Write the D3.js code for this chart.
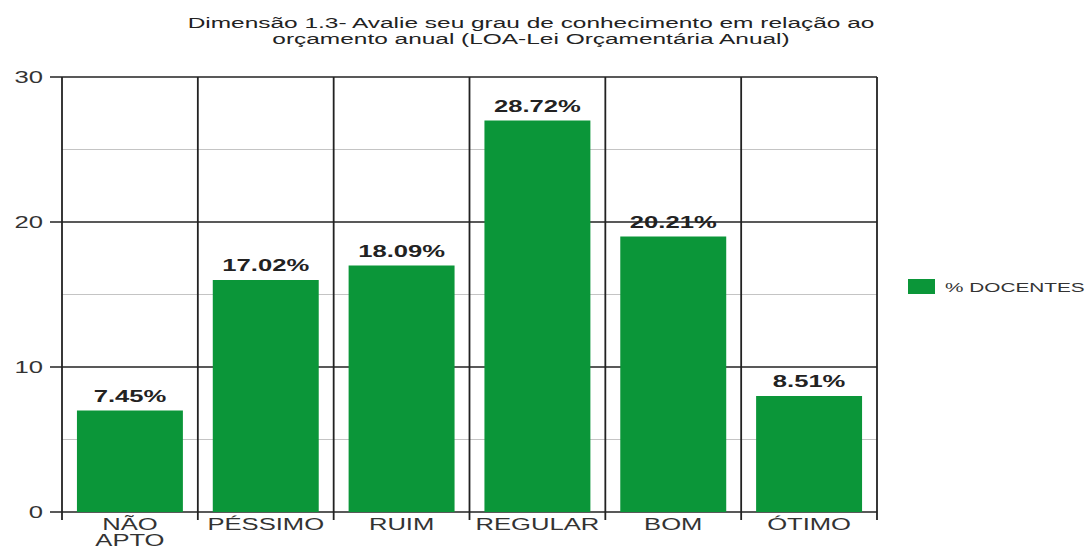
<!DOCTYPE html>
<html>
<head>
<meta charset="utf-8">
<script src="https://cdn.jsdelivr.net/npm/d3@7"></script>
<style>
  body { margin: 0; background: #fff; }
  svg text { font-family: "Liberation Sans", Arial, sans-serif; }
</style>
</head>
<body>
<svg id="chart"></svg>
<script>
var categories = ["NÃO APTO", "PÉSSIMO", "RUIM", "REGULAR", "BOM", "ÓTIMO"];
var counts = [7, 16, 17, 27, 19, 8];
var pctLabels = ["7.45%", "17.02%", "18.09%", "28.72%", "20.21%", "8.51%"];
var yTicks = [0, 10, 20, 30];
var yMinor = [5, 15, 25];
var seriesName = "% DOCENTES";
var titleLines = ["Dimensão 1.3- Avalie seu grau de conhecimento em relação ao",
                  "orçamento anual (LOA-Lei Orçamentária Anual)"];

var svg = d3.select("#chart"),
    margin = {top: 77, right: 212, bottom: 38, left: 62},
    W = 1089, H = 550,
    width = W - margin.left - margin.right,
    height = H - margin.top - margin.bottom;
svg.attr("width", W).attr("height", H);

// the source picture is stretched sideways, so text is widened too
var sx = 1.6;
function place(px, py, s) { return "translate(" + px + "," + py + ") scale(" + (s || sx) + ",1)"; }

var g = svg.append("g").attr("transform", "translate(" + margin.left + "," + margin.top + ")");

var x = d3.scaleBand().domain(categories).range([0, width]).paddingInner(0).paddingOuter(0);
var y = d3.scaleLinear().domain([0, 30]).range([height, 0]);
var barPad = 0.11;
var green = "#0b9639";

// minor horizontal grid
g.selectAll(".minor").data(yMinor).enter().append("line")
  .attr("x1", 0).attr("x2", width)
  .attr("y1", function(d) { return y(d); }).attr("y2", function(d) { return y(d); })
  .attr("stroke", "#c4c4c4").attr("stroke-width", 1);

// major horizontal grid + ticks
g.selectAll(".major").data(yTicks).enter().append("line")
  .attr("x1", -12).attr("x2", width)
  .attr("y1", function(d) { return y(d); }).attr("y2", function(d) { return y(d); })
  .attr("stroke", "#222").attr("stroke-width", 1.5);

g.selectAll(".ylab").data(yTicks).enter().append("text")
  .attr("transform", function(d) { return place(-19, y(d)); })
  .attr("dy", "0.35em").attr("text-anchor", "end")
  .attr("font-size", 16).attr("fill", "#333")
  .text(function(d) { return d; });

// bars
g.selectAll(".bar").data(categories).enter().append("rect")
  .attr("x", function(d) { return x(d) + x.bandwidth() * barPad; })
  .attr("width", x.bandwidth() * (1 - 2 * barPad))
  .attr("y", function(d, i) { return y(counts[i]); })
  .attr("height", function(d, i) { return height - y(counts[i]); })
  .attr("fill", green);

// vertical grid at band edges
var edges = categories.map(function(d) { return x(d); }).concat([width]);
g.selectAll(".vline").data(edges).enter().append("line")
  .attr("x1", function(d) { return d; }).attr("x2", function(d) { return d; })
  .attr("y1", 0).attr("y2", height + 8)
  .attr("stroke", "#222").attr("stroke-width", 1.8);

// value labels
g.selectAll(".val").data(categories).enter().append("text")
  .attr("transform", function(d, i) { return place(x(d) + x.bandwidth() / 2, y(counts[i]) - 9); })
  .attr("text-anchor", "middle").attr("font-size", 16).attr("font-weight", "bold")
  .attr("fill", "#222")
  .text(function(d, i) { return pctLabels[i]; });

// category labels
g.selectAll(".xlab").data(categories).enter().append("text")
  .attr("transform", function(d) { return place(x(d) + x.bandwidth() / 2, height + 18); })
  .attr("text-anchor", "middle").attr("font-size", 16).attr("fill", "#333")
  .each(function(d) {
    var words = d === "NÃO APTO" ? ["NÃO", "APTO"] : [d];
    var t = d3.select(this);
    words.forEach(function(w, k) {
      t.append("tspan").attr("x", 0).attr("dy", k ? 16 : 0).text(w);
    });
  });

// title
svg.selectAll(".title").data(titleLines).enter().append("text")
  .attr("transform", function(d, i) { return place(531, 28 + i * 16, 1.63); })
  .attr("text-anchor", "middle").attr("font-size", 15).attr("fill", "#222")
  .text(function(d) { return d; });

// legend
var leg = svg.append("g").attr("transform", "translate(908,279)");
leg.append("rect").attr("width", 27).attr("height", 15).attr("fill", green);
leg.append("text").attr("transform", place(37, 8)).attr("dy", "0.35em")
  .attr("font-size", 13).attr("fill", "#333").text(seriesName);
</script>
</body>
</html>
